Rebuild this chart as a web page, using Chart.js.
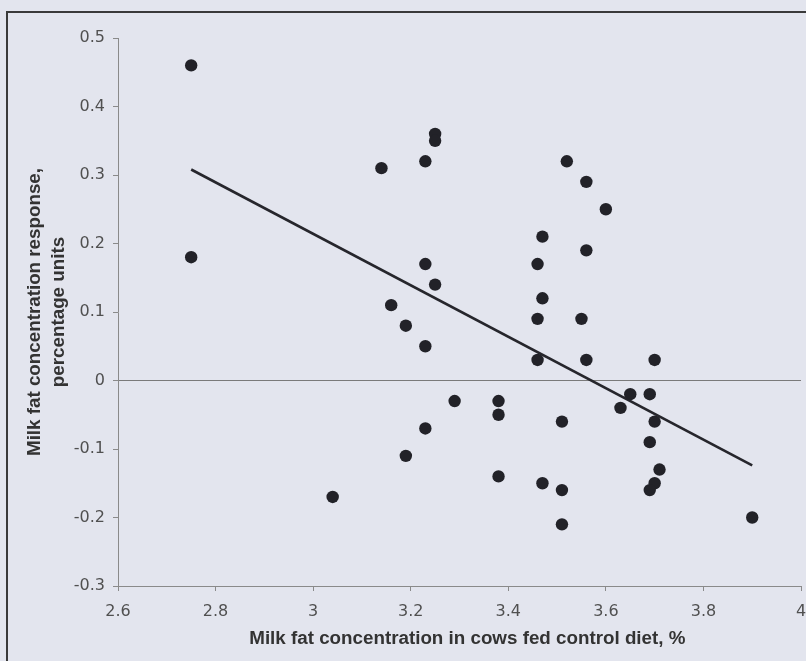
<!DOCTYPE html>
<html>
<head>
<meta charset="utf-8">
<script src="https://cdn.jsdelivr.net/npm/chart.js@4"></script>
<style>
  html, body { margin: 0; padding: 0; background: #e3e5ee; }
  canvas { display: block; }
</style>
</head>
<body>
<canvas id="c" width="806" height="661"></canvas>
<script>
// Control diet milk fat (%) for each observation
const controlFat = [
  2.75, 2.75, 3.14, 3.16, 3.19, 3.25, 3.25, 3.23, 3.52, 3.56,
  3.60, 3.47, 3.56, 3.46, 3.23, 3.25, 3.47, 3.46, 3.55, 3.23,
  3.46, 3.56, 3.70, 3.65, 3.69, 3.63, 3.29, 3.38, 3.38, 3.51,
  3.70, 3.23, 3.69, 3.19, 3.71, 3.38, 3.47, 3.51, 3.70, 3.69,
  3.51, 3.90, 3.04
];
// Milk fat concentration response (percentage units)
const fatResponse = [
  0.46, 0.18, 0.31, 0.11, 0.08, 0.36, 0.35, 0.32, 0.32, 0.29,
  0.25, 0.21, 0.19, 0.17, 0.17, 0.14, 0.12, 0.09, 0.09, 0.05,
  0.03, 0.03, 0.03, -0.02, -0.02, -0.04, -0.03, -0.03, -0.05, -0.06,
  -0.06, -0.07, -0.09, -0.11, -0.13, -0.14, -0.15, -0.16, -0.15, -0.16,
  -0.21, -0.20, -0.17
];
// Regression line end points
const fitX = [2.75, 3.90];
const fitY = [0.308, -0.124];

const xTitle = "\u00a0\u00a0\u00a0Milk fat concentration in cows fed control diet, %";
const yTitle = ["Milk fat concentration response,", "percentage units"];

const pts = controlFat.map((x, i) => ({ x: x, y: fatResponse[i] }));
const fit = fitX.map((x, i) => ({ x: x, y: fitY[i] }));

const frame = {
  id: 'frame',
  beforeDraw(chart) {
    const ctx = chart.ctx;
    ctx.save();
    ctx.fillStyle = '#e3e5ee';
    ctx.fillRect(0, 0, chart.width, chart.height);
    ctx.strokeStyle = '#3a3a3a';
    ctx.lineWidth = 2;
    ctx.beginPath();
    ctx.moveTo(7, chart.height);
    ctx.lineTo(7, 12);
    ctx.lineTo(chart.width, 12);
    ctx.stroke();
    ctx.restore();
  }
};

const fmt = v => Number(v.toFixed(1)).toString();

new Chart(document.getElementById('c'), {
  type: 'scatter',
  data: {
    datasets: [
      {
        data: pts,
        backgroundColor: '#222228',
        borderColor: '#222228',
        pointRadius: 6.2,
        pointHoverRadius: 6.2,
        borderWidth: 0
      },
      {
        type: 'line',
        data: fit,
        showLine: true,
        borderColor: '#26262c',
        borderWidth: 2.6,
        pointRadius: 0,
        fill: false
      }
    ]
  },
  plugins: [frame],
  options: {
    responsive: false,
    animation: false,
    devicePixelRatio: 1,
    layout: { autoPadding: false, padding: { left: 10, top: 38, right: 0, bottom: 0 } },
    plugins: { legend: { display: false }, tooltip: { enabled: false } },
    scales: {
      x: {
        type: 'linear',
        min: 2.6, max: 4,
        afterFit(s) { s.height = 75; s.paddingRight = 5; s.paddingLeft = 0; },
        ticks: {
          stepSize: 0.2,
          callback: fmt,
          color: '#505050',
          font: { family: 'DejaVu Sans', size: 16 },
          padding: 11,
          maxRotation: 0
        },
        grid: { drawOnChartArea: false, tickLength: 5, tickColor: '#8a8a8a' },
        border: { display: true, color: '#8a8a8a', width: 1 },
        title: {
          display: true,
          text: xTitle,
          color: '#333',
          font: { family: 'Liberation Sans', size: 18.8, weight: 'bold', lineHeight: 1.26 },
          padding: { top: 0, bottom: 10 }
        }
      },
      y: {
        type: 'linear',
        min: -0.3, max: 0.5,
        afterFit(s) { s.width = 108; },
        ticks: {
          stepSize: 0.1,
          callback: fmt,
          color: '#505050',
          font: { family: 'DejaVu Sans', size: 16 },
          padding: 8
        },
        grid: {
          drawOnChartArea: true,
          tickLength: 5,
          tickColor: '#8a8a8a',
          color: c => (c.tick && Math.abs(c.tick.value) < 1e-9) ? '#7a7a7a' : 'rgba(0,0,0,0)',
          lineWidth: 1
        },
        border: { display: true, color: '#8a8a8a', width: 1 },
        title: {
          display: true,
          text: yTitle,
          color: '#333',
          font: { family: 'Liberation Sans', size: 18.8, weight: 'bold', lineHeight: 1.26 },
          padding: { top: 13, bottom: 0 }
        }
      }
    }
  }
});
</script>
</body>
</html>
